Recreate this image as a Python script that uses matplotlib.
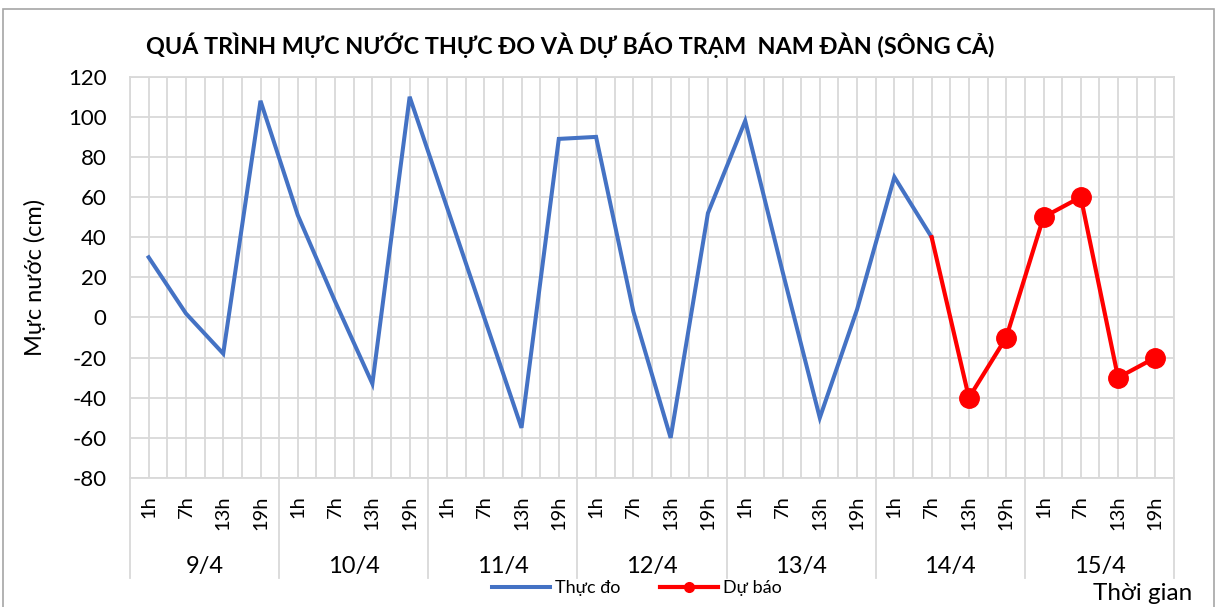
import matplotlib
matplotlib.use("Agg")
import matplotlib.pyplot as plt
from matplotlib.patches import Rectangle
from matplotlib.ticker import MultipleLocator

plt.rcParams['font.family'] = ['Lato', 'DejaVu Sans']
plt.rcParams['axes.unicode_minus'] = False

# --- Daten ---
days = ["9/4", "10/4", "11/4", "12/4", "13/4", "14/4", "15/4"]
hours = ["1h", "7h", "13h", "19h"]
thuc_do = [30, 2, -18, 108,
           51, 8, -33, 110,
           55, 0, -55, 89,
           90, 3, -60, 52,
           98, 23, -50, 4,
           70, 40]
du_bao = [40, -40, -10,
          50, 60, -30, -20]
du_bao_start = 21  # 14/4 7h (Übergang von Messung zu Prognose)

n = len(days) * len(hours)
x_obs = list(range(len(thuc_do)))
x_fc = list(range(du_bao_start, du_bao_start + len(du_bao)))

grid_c = "#d9d9d9"
W, H = 1219, 607
fig = plt.figure(figsize=(W / 100, H / 100), dpi=100)
ax = fig.add_axes([130 / W, 1 - 478 / H, (1174 - 130) / W, (478 - 76.7) / H])

# äußerer Rahmen (Excel-Diagrammbereich)
fig.patches.append(Rectangle((3 / W, -0.01), 1211 / W, 1 - 9 / H + 0.01, transform=fig.transFigure,
                             fill=False, edgecolor="#a6a6a6", lw=1.2))

ax.plot(x_obs, thuc_do, color="#4472C4", lw=2.9, solid_joinstyle="miter", label="Thực đo", zorder=3)
ax.plot(x_fc, du_bao, color="#FF0000", lw=3, zorder=4)
ax.plot(x_fc[1:], du_bao[1:], color="#FF0000", lw=0, marker="o", ms=14, zorder=5)
ax.plot([], [], color="#FF0000", lw=3, marker="o", ms=7, label="Dự báo")

ax.set_xlim(-0.5, n - 0.5)
ax.set_ylim(-80, 120)
ax.yaxis.set_major_locator(MultipleLocator(20))
ax.set_xticks([i * 0.5 - 0.5 for i in range(2 * n + 1)])
ax.set_xticklabels([])
ax.tick_params(axis="x", length=0)
ax.tick_params(axis="y", length=0, labelsize=16, pad=17)
ax.grid(True, color=grid_c, lw=1.3)
ax.set_axisbelow(True)
for sp in ax.spines.values():
    sp.set_color(grid_c); sp.set_linewidth(1.3)

ax.set_ylabel("Mực nước (cm)", fontsize=17)
ax.yaxis.set_label_coords(-0.08, 0.5)

# mehrstufige Kategorienachse
tr = ax.get_xaxis_transform()
ph = 478 - 76.7
for d, day in enumerate(days):
    for h, hr in enumerate(hours):
        ax.text(d * 4 + h, -17 / ph, hr, transform=tr, rotation=90, ha="center", va="top", fontsize=14.5)
    ax.text(d * 4 + 1.5, -88 / ph, day, transform=tr, ha="center", va="center", fontsize=17)
for d in range(len(days) + 1):
    ax.plot([d * 4 - 0.5] * 2, [0, -100 / ph], transform=tr, color=grid_c, lw=1.3, clip_on=False)

fig.text(570 / W, 1 - 45 / H, "QUÁ TRÌNH MỰC NƯỚC THỰC ĐO VÀ DỰ BÁO TRẠM  NAM ĐÀN (SÔNG CẢ)",
         ha="center", va="center", fontsize=16.8, fontweight="bold")
fig.text(1143 / W, 1 - 593 / H, "Thời gian", ha="center", va="center", fontsize=17.5)
fig.legend(loc="center", bbox_to_anchor=(637 / W, 1 - 588 / H), ncol=2, frameon=False,
           fontsize=13, handlelength=3.2, columnspacing=2.2, handletextpad=0.3)

fig.savefig("out.png", dpi=100)
